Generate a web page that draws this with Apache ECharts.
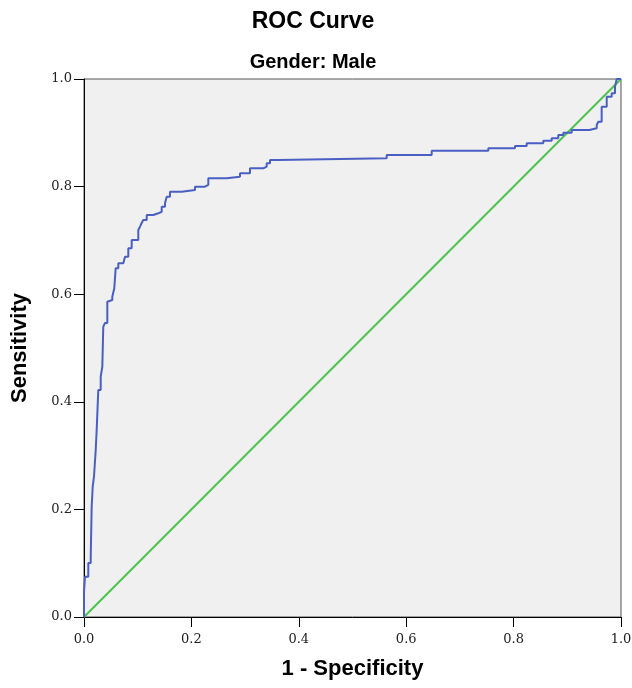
<!DOCTYPE html>
<html>
  <head>
    <meta charset="UTF-8">
    <title>ROC Curve</title>
    <script src="https://cdn.jsdelivr.net/npm/echarts@6/dist/echarts.min.js"></script>
  </head>
  <body style="margin:0;background:#fff;">
    <div id="myChart" style="width:632px;height:688px;"></div>
    <script type="text/javascript">
      // ROC staircase vertices (1 - specificity, sensitivity)
      var fpr = [0, 0, 0.0019, 0.0019, 0.008, 0.008, 0.0125, 0.0125, 0.0143, 0.0143,
        0.0162, 0.0162, 0.0186, 0.0186, 0.0218, 0.0218, 0.0236, 0.0236, 0.0266, 0.0266,
        0.0311, 0.0311, 0.0341, 0.0341, 0.0359, 0.0359, 0.0391, 0.0391, 0.0434, 0.0434,
        0.0471, 0.0471, 0.0527, 0.0527, 0.0564, 0.0564, 0.059, 0.059, 0.0639, 0.0639,
        0.0732, 0.0732, 0.0764, 0.0764, 0.0825, 0.0825, 0.0888, 0.0888, 0.1011, 0.1011,
        0.1043, 0.1043, 0.1074, 0.1074, 0.1104, 0.1104, 0.1168, 0.1168, 0.129, 0.129,
        0.1384, 0.1384, 0.1447, 0.1447, 0.1508, 0.1508, 0.154, 0.154, 0.1601, 0.1601,
        0.1819, 0.1819, 0.2067, 0.2067, 0.2253, 0.2253, 0.2315, 0.2315, 0.2657, 0.2657,
        0.2905, 0.2905, 0.3091, 0.3091, 0.3339, 0.3339, 0.3402, 0.3402, 0.3464, 0.3464,
        0.3618, 0.3618, 0.5637, 0.5637, 0.6475, 0.6475, 0.7529, 0.7529, 0.8026, 0.8026,
        0.8244, 0.8244, 0.8553, 0.8553, 0.8709, 0.8709, 0.8832, 0.8832, 0.8926, 0.8926,
        0.9082, 0.9082, 0.941, 0.941, 0.9548, 0.9548, 0.9577, 0.9577, 0.964, 0.964,
        0.9734, 0.9734, 0.9827, 0.9827, 0.9888, 0.9888, 0.992, 0.992, 1];
      var tpr = [0, 0.047, 0.047, 0.0749, 0.0749, 0.1004, 0.1004, 0.1121, 0.1121, 0.205,
        0.205, 0.2422, 0.2422, 0.2608, 0.2608, 0.3104, 0.3104, 0.3476, 0.3476, 0.4219,
        0.4219, 0.4467, 0.4467, 0.4652, 0.4652, 0.5396, 0.5396, 0.5465, 0.5465, 0.586,
        0.586, 0.5892, 0.5892, 0.5953, 0.5953, 0.611, 0.611, 0.6481, 0.6481, 0.6574,
        0.6574, 0.6604, 0.6604, 0.6697, 0.6697, 0.6853, 0.6853, 0.7007, 0.7007, 0.7193,
        0.7193, 0.7255, 0.7255, 0.7323, 0.7323, 0.7379, 0.7379, 0.7472, 0.7472, 0.7504,
        0.7504, 0.7533, 0.7533, 0.7626, 0.7626, 0.7689, 0.7689, 0.7812, 0.7812, 0.7905,
        0.7905, 0.7937, 0.7937, 0.7998, 0.7998, 0.803, 0.803, 0.8154, 0.8154, 0.8184,
        0.8184, 0.8247, 0.8247, 0.834, 0.834, 0.837, 0.837, 0.8432, 0.8432, 0.8494,
        0.8494, 0.8526, 0.8526, 0.8587, 0.8587, 0.8667, 0.8667, 0.8712, 0.8712, 0.8755,
        0.8755, 0.8804, 0.8804, 0.8853, 0.8853, 0.8897, 0.8897, 0.8959, 0.8959, 0.9002,
        0.9002, 0.9052, 0.9052, 0.9083, 0.9083, 0.9145, 0.9145, 0.9206, 0.9206, 0.9485,
        0.9485, 0.9671, 0.9671, 0.9734, 0.9734, 0.9857, 0.9857, 1, 1];
      // reference line
      var refX = [0, 1];
      var refY = [0, 1];
      var tickLabels = ['0.0', '0.2', '0.4', '0.6', '0.8', '1.0'];

      var rocData = fpr.map(function (x, i) { return [x, tpr[i]]; });
      var refData = refX.map(function (x, i) { return [x, refY[i]]; });

      var myChart = echarts.init(document.getElementById('myChart'));

      function labelStyle(margin) {
        return {
          fontFamily: 'DejaVu Serif',
          fontSize: 13,
          color: '#222',
          margin: margin,
          formatter: function (v) { return tickLabels[Math.round(v * 5)]; }
        };
      }
      var nameStyle = { fontFamily: 'Liberation Sans', fontWeight: 'bold', fontSize: 22, color: '#000' };

      var option = {
        animation: false,
        title: [
          {
            text: 'ROC Curve',
            left: 308,
            top: 5,
            textAlign: 'center',
            textStyle: { fontFamily: 'Liberation Sans', fontWeight: 'bold', fontSize: 23, color: '#000' }
          },
          {
            text: 'Gender: Male',
            left: 308,
            top: 47,
            textAlign: 'center',
            textStyle: { fontFamily: 'Liberation Sans', fontWeight: 'bold', fontSize: 20, color: '#000' }
          }
        ],
        grid: {
          left: 84,
          right: 11,
          top: 79,
          bottom: 71,
          outerBoundsMode: 'none',
          containLabel: false,
          show: true,
          backgroundColor: '#f0f0f0',
          borderColor: '#555',
          borderWidth: 1
        },
        xAxis: {
          type: 'value',
          min: 0,
          max: 1,
          interval: 0.2,
          name: '1 - Specificity',
          nameLocation: 'middle',
          nameGap: 41,
          nameTextStyle: nameStyle,
          axisLine: { show: true, lineStyle: { color: '#000', width: 1 } },
          axisTick: { show: true, length: 10, lineStyle: { color: '#000' } },
          axisLabel: labelStyle(16),
          splitLine: { show: false }
        },
        yAxis: {
          type: 'value',
          min: 0,
          max: 1,
          interval: 0.2,
          name: 'Sensitivity',
          nameLocation: 'middle',
          nameGap: 53,
          nameTextStyle: nameStyle,
          axisLine: { show: true, lineStyle: { color: '#000', width: 1 } },
          axisTick: { show: true, length: 10, lineStyle: { color: '#000' } },
          axisLabel: labelStyle(12),
          splitLine: { show: false }
        },
        series: [
          {
            name: 'Reference',
            type: 'line',
            data: refData,
            showSymbol: false,
            lineStyle: { color: '#4cc44e', width: 2 },
            z: 2
          },
          {
            name: 'ROC',
            type: 'line',
            data: rocData,
            showSymbol: false,
            lineStyle: { color: '#4a5fc3', width: 2 },
            z: 3
          }
        ]
      };

      myChart.setOption(option);
    </script>
  </body>
</html>
